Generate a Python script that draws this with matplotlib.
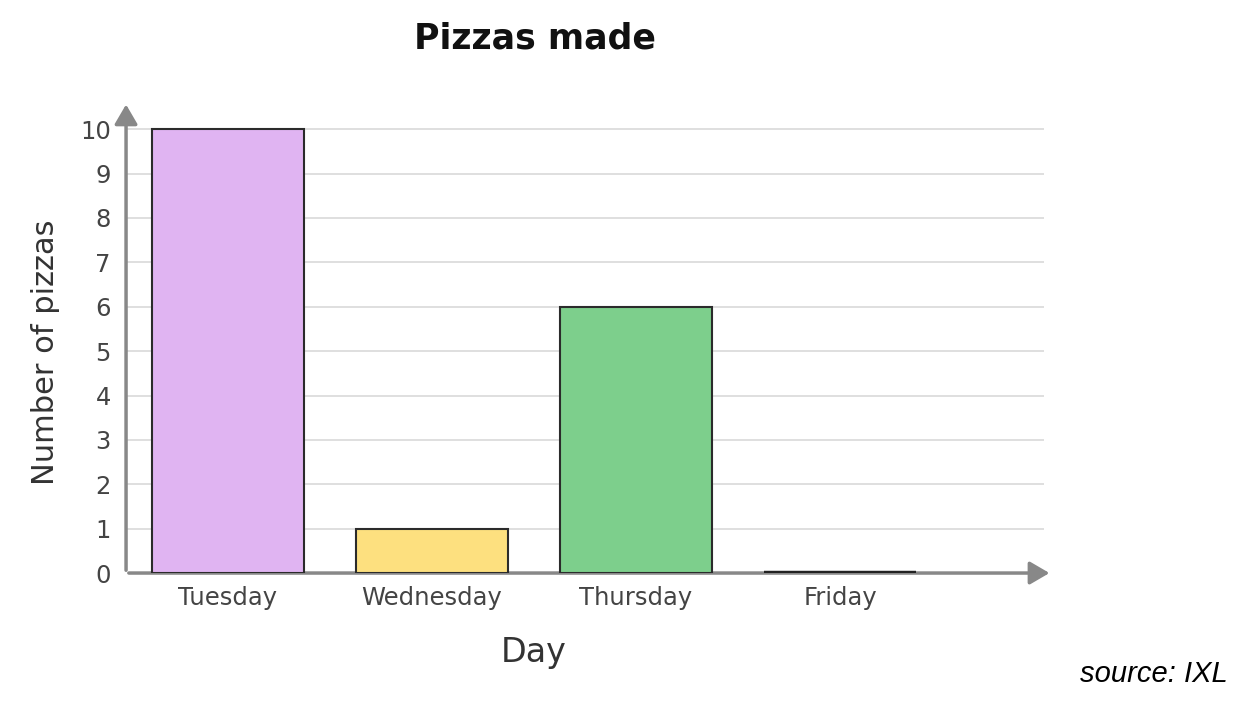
import matplotlib.pyplot as plt
import numpy as np

days = ['Tuesday', 'Wednesday', 'Thursday', 'Friday']
pizzas = [10, 1, 6, 0]
bar_colors = ['#e0b4f2', '#fde07f', '#7dcf8c', '#7dcf8c']
y_ticks = list(range(0, 11))

fig = plt.figure(figsize=(12.58, 7.18), dpi=100)
ax = fig.add_axes([0.1002, 0.2019, 0.733, 0.6546])

x = np.arange(len(days))
ax.set_xlim(-0.5, 4.02)
ax.set_ylim(0, 10.59)

# grid lines
for t in y_ticks[1:]:
    ax.hlines(t, -0.5, 4.0, color='#dcdcdc', lw=1.3, zorder=0)

ax.bar(x, pizzas, width=0.745, color=bar_colors, edgecolor='#2b2b2b', linewidth=1.5, zorder=4)
# zero-height bar shows as a dark line
for xi, v in zip(x, pizzas):
    if v == 0:
        ax.hlines(0, xi - 0.3725, xi + 0.3725, color='#222222', lw=3.2, zorder=5)

for s in ax.spines.values():
    s.set_visible(False)

# axes with arrow heads
arrow_kw = dict(arrowstyle='-|>,head_length=0.6,head_width=0.35', color='#888888', lw=2.5, mutation_scale=20)
ax.annotate('', xy=(4.04, 0), xytext=(-0.5, 0), arrowprops=arrow_kw, zorder=3,
            annotation_clip=False)
ax.annotate('', xy=(-0.5, 10.62), xytext=(-0.5, 0), arrowprops=arrow_kw, zorder=3,
            annotation_clip=False)

ax.set_xticks(x)
ax.set_xticklabels(days, fontsize=17.5, color='#444444', family='DejaVu Sans')
ax.set_yticks(y_ticks)
ax.set_yticklabels([str(t) for t in y_ticks], fontsize=17.5, color='#444444', family='DejaVu Sans')
ax.tick_params(axis='both', length=0)
ax.tick_params(axis='x', pad=9)
ax.tick_params(axis='y', pad=11)

ax.set_ylabel('Number of pizzas', fontsize=22, color='#333333', family='DejaVu Sans')
ax.yaxis.set_label_coords(-0.072, 0.47)
ax.set_xlabel('Day', fontsize=24, color='#333333', family='DejaVu Sans')
ax.xaxis.set_label_coords(0.4425, -0.133)

fig.text(0.425, 0.947, 'Pizzas made', fontsize=25, fontweight='bold', ha='center', va='center',
         color='#111111', family='DejaVu Sans')
fig.text(0.976, 0.061, 'source: IXL', fontsize=21, style='italic', ha='right', va='center',
         color='black', family='Liberation Sans')

fig.savefig('out.png', dpi=100)
